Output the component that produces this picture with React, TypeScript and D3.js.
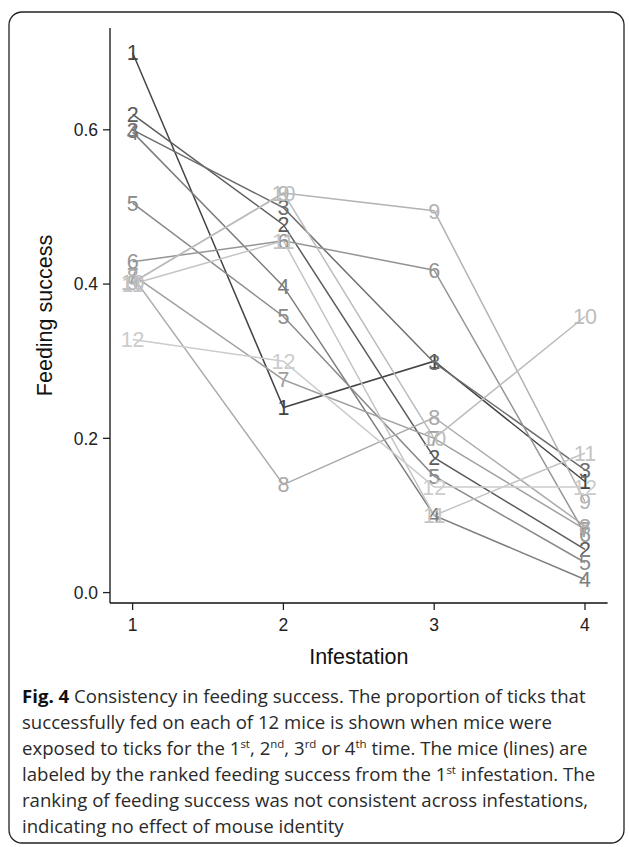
import React from 'react';
import * as d3 from 'd3';

// infestation number on x, proportion fed on y; one array per mouse (ranked at 1st infestation)
const infestations = [1, 2, 3, 4];
const mouseLabels = ['1', '2', '3', '4', '5', '6', '7', '8', '9', '10', '11', '12'];
const mouse1 = [0.70, 0.24, 0.30, 0.144];
const mouse2 = [0.62, 0.477, 0.175, 0.056];
const mouse3 = [0.60, 0.499, 0.298, 0.159];
const mouse4 = [0.597, 0.397, 0.10, 0.017];
const mouse5 = [0.505, 0.358, 0.151, 0.039];
const mouse6 = [0.429, 0.456, 0.418, 0.076];
const mouse7 = [0.412, 0.276, 0.20, 0.082];
const mouse8 = [0.41, 0.14, 0.227, 0.086];
const mouse9 = [0.402, 0.518, 0.495, 0.118];
const mouse10 = [0.402, 0.518, 0.20, 0.358];
const mouse11 = [0.40, 0.456, 0.10, 0.181];
const mouse12 = [0.328, 0.30, 0.137, 0.137];
const mice = [mouse1, mouse2, mouse3, mouse4, mouse5, mouse6, mouse7, mouse8, mouse9, mouse10, mouse11, mouse12];

const yTicks = [0.0, 0.2, 0.4, 0.6];

const captionLines = [
  '**Fig. 4** Consistency in feeding success. The proportion of ticks that',
  'successfully fed on each of 12 mice is shown when mice were',
  'exposed to ticks for the 1^st^, 2^nd^, 3^rd^ or 4^th^ time. The mice (lines) are',
  'labeled by the ranked feeding success from the 1^st^ infestation. The',
  'ranking of feeding success was not consistent across infestations,',
  'indicating no effect of mouse identity',
];

// grey palette like ggplot's scale_colour_grey (gamma 2.2)
function greyFor(i: number, n: number) {
  const s = Math.pow(0.27, 2.2), e = Math.pow(0.8, 2.2);
  const v = Math.pow(s + (e - s) * (i / (n - 1)), 1 / 2.2);
  const c = Math.round(v * 255);
  return `rgb(${c},${c},${c})`;
}

function CaptionLine({ text, x, y }: { text: string; x: number; y: number }) {
  // split into bold (**..**), superscript (^..^) and plain parts
  const parts = text.split(/(\*\*[^*]+\*\*|\^[^^]+\^)/).filter(p => p !== '');
  let shift = 0;
  return (
    <text x={x} y={y} fontFamily="'Open Sans', sans-serif" fontSize={18.6} fill="#2a2a2a">
      {parts.map((p, i) => {
        const back = shift; shift = 0;
        if (p.startsWith('**')) return <tspan key={i} dy={back} fontWeight="bold" fill="#111">{p.slice(2, -2)}</tspan>;
        if (p.startsWith('^')) {
          shift = 7;
          return <tspan key={i} dy={back - 7} fontSize={11.5}>{p.slice(1, -1)}</tspan>;
        }
        return <tspan key={i} dy={back}>{p}</tspan>;
      })}
    </text>
  );
}

export default function App() {
  const W = 629, H = 847;
  const left = 110, right = 607.6, top = 28, bottom = 603;
  const x = d3.scaleLinear().domain([0.85, 4.15]).range([left, right]);
  const y = d3.scaleLinear().domain([-0.0135, 0.732]).range([bottom, top]);
  const line = d3.line<number>().x((_, i) => x(infestations[i])).y(d => y(d));
  const axisFont = "'Liberation Sans', Arial, sans-serif";

  return (
    <div style={{ position: 'fixed', left: 0, top: 0 }}>
      <svg width={W} height={H} style={{ display: 'block', background: '#fff' }}>
        <rect x={9} y={12} width={615} height={831} rx={13} ry={13} fill="none" stroke="#222" strokeWidth={1.3} />

        {/* lines */}
        {mice.map((m, i) => (
          <path key={`l${i}`} d={line(m) || ''} fill="none" stroke={greyFor(i, mice.length)} strokeWidth={1.5} />
        ))}
        {/* labels at points */}
        {mice.map((m, i) => m.map((v, j) => (
          <text key={`t${i}-${j}`} x={x(infestations[j])} y={y(v)} dy="0.36em" textAnchor="middle"
            fontFamily={axisFont} fontSize={21.5} fill={greyFor(i, mice.length)}>{mouseLabels[i]}</text>
        )))}

        {/* axes */}
        <line x1={left} x2={left} y1={top} y2={bottom} stroke="#111" strokeWidth={1.3} />
        <line x1={left} x2={right} y1={bottom} y2={bottom} stroke="#111" strokeWidth={1.3} />
        {yTicks.map(t => (
          <g key={`y${t}`}>
            <line x1={left - 7} x2={left} y1={y(t)} y2={y(t)} stroke="#222" strokeWidth={1.3} />
            <text x={left - 12} y={y(t)} dy="0.36em" textAnchor="end" fontFamily={axisFont} fontSize={17.5} fill="#222">{d3.format('.1f')(t)}</text>
          </g>
        ))}
        {infestations.map(t => (
          <g key={`x${t}`}>
            <line x1={x(t)} x2={x(t)} y1={bottom} y2={bottom + 7} stroke="#222" strokeWidth={1.3} />
            <text x={x(t)} y={bottom + 22} dy="0.36em" textAnchor="middle" fontFamily={axisFont} fontSize={17.5} fill="#222">{t}</text>
          </g>
        ))}
        <text x={(left + right) / 2} y={664} textAnchor="middle" fontFamily={axisFont} fontSize={21.5} fill="#111">Infestation</text>
        <text transform={`translate(52,${(top + bottom) / 2}) rotate(-90)`} textAnchor="middle" fontFamily={axisFont} fontSize={21.5} fill="#111">Feeding success</text>

        {captionLines.map((l, i) => (
          <CaptionLine key={i} text={l} x={22} y={703 + i * 26} />
        ))}
      </svg>
    </div>
  );
}
